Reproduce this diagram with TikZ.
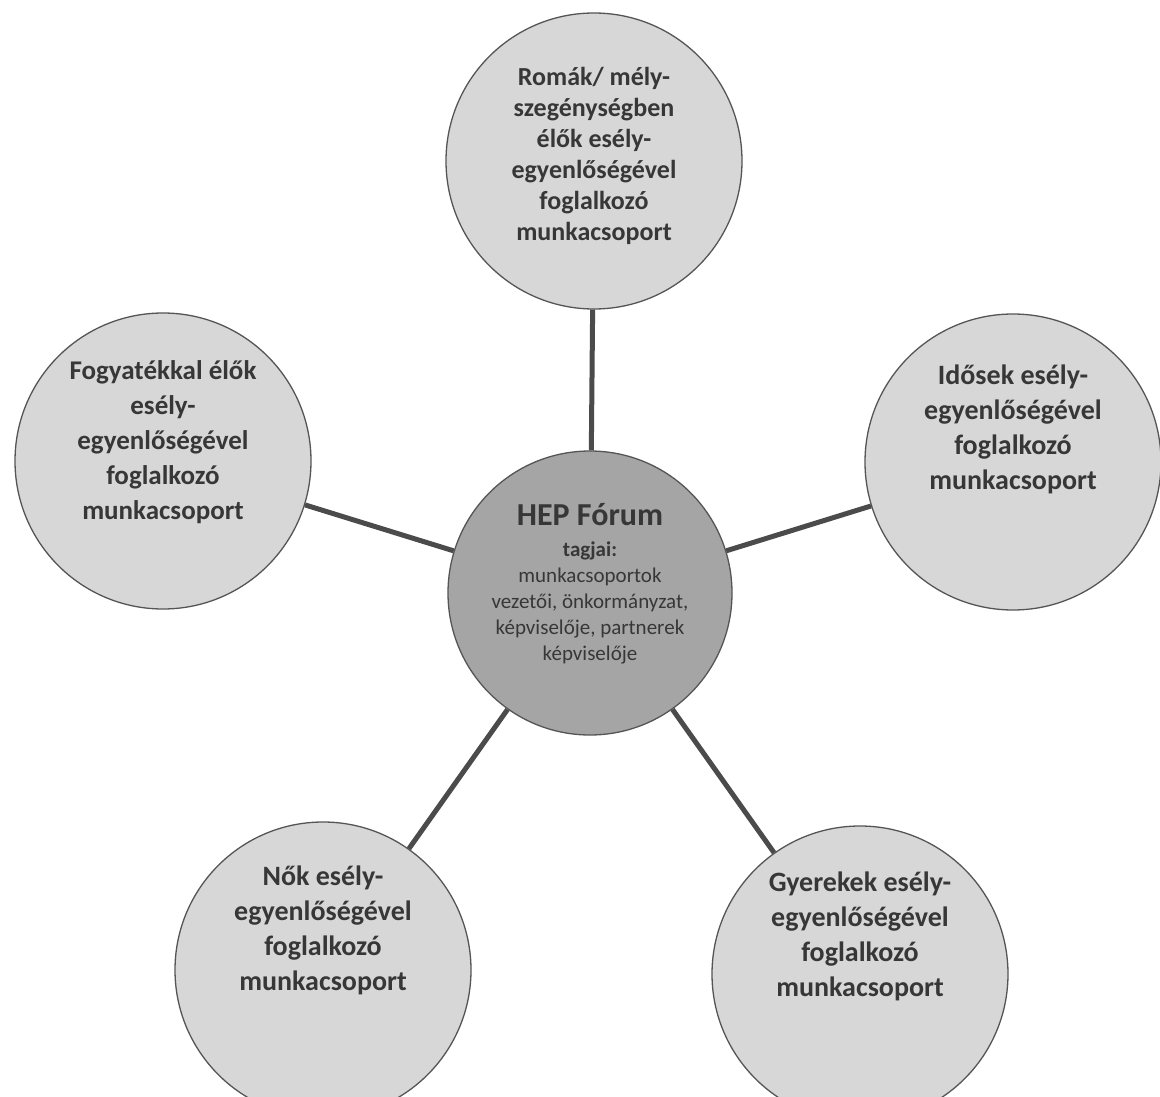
\documentclass[tikz,border=0pt]{standalone}
\usepackage{fontspec}
\setmainfont{Carlito}
\definecolor{outerfill}{RGB}{215,215,216}
\definecolor{centerfill}{RGB}{165,165,166}
\definecolor{edgecol}{RGB}{85,85,85}
\definecolor{txt}{RGB}{55,55,55}
\definecolor{conn}{RGB}{75,75,75}
\newcommand{\firstline}[1]{\rule{0pt}{#1pt}}
\begin{document}
\begin{tikzpicture}[x=1pt,y=-1pt,
  outer/.style={circle,draw=edgecol,line width=1.3pt,fill=outerfill,minimum size=296pt,inner sep=0pt},
  hub/.style={circle,draw=edgecol,line width=1.3pt,fill=centerfill,minimum size=284pt,inner sep=0pt},
  lbl/.style={anchor=north,inner sep=0pt,align=center,text=txt,font=\fontsize{28}{35}\selectfont\bfseries},
  link/.style={draw=conn,line width=5pt}]
\path[use as bounding box,fill=white] (0,0) rectangle (1160,1097);

\node[hub] (hub) at (590,593) {};
\node[outer] (roma) at (594,161) {};
\node[outer] (fogy) at (163,461) {};
\node[outer] (idos) at (1013,462) {};
\node[outer] (nok) at (323,970) {};
\node[outer] (gyer) at (860,974) {};

\node[lbl,font=\fontsize{21}{26}\selectfont] (hubtxt) at ([yshift=-47pt]hub.north)
  {\firstline{28}{\fontsize{32}{32}\selectfont\bfseries HEP Fórum}\\[5pt]
   {\bfseries tagjai:}\\ munkacsoportok\\ vezetői, önkormányzat,\\ képviselője, partnerek\\ képviselője};
\node[lbl,font=\fontsize{26}{31}\selectfont\bfseries] (romatxt) at ([yshift=-49pt]roma.north)
  {\firstline{24}Romák/ mély-\\ szegénységben\\ élők esély-\\ egyenlőségével\\ foglalkozó\\ munkacsoport};
\node[lbl,font=\fontsize{27}{35}\selectfont\bfseries] (fogytxt) at ([yshift=-43pt]fogy.north)
  {\firstline{24}Fogyatékkal élők\\ esély-\\ egyenlőségével\\ foglalkozó\\ munkacsoport};
\node[lbl] (idostxt) at ([yshift=-47pt]idos.north)
  {\firstline{24}Idősek esély-\\ egyenlőségével\\ foglalkozó\\ munkacsoport};
\node[lbl] (noktxt) at ([yshift=-40pt]nok.north)
  {\firstline{24}Nők esély-\\ egyenlőségével\\ foglalkozó\\ munkacsoport};
\node[lbl] (gyertxt) at ([yshift=-42pt]gyer.north)
  {\firstline{24}Gyerekek esély-\\ egyenlőségével\\ foglalkozó\\ munkacsoport};

\draw[link] (hub) -- (roma);
\draw[link] (hub) -- (fogy);
\draw[link] (hub) -- (idos);
\draw[link] (hub) -- (nok);
\draw[link] (hub) -- (gyer);
\end{tikzpicture}
\end{document}
